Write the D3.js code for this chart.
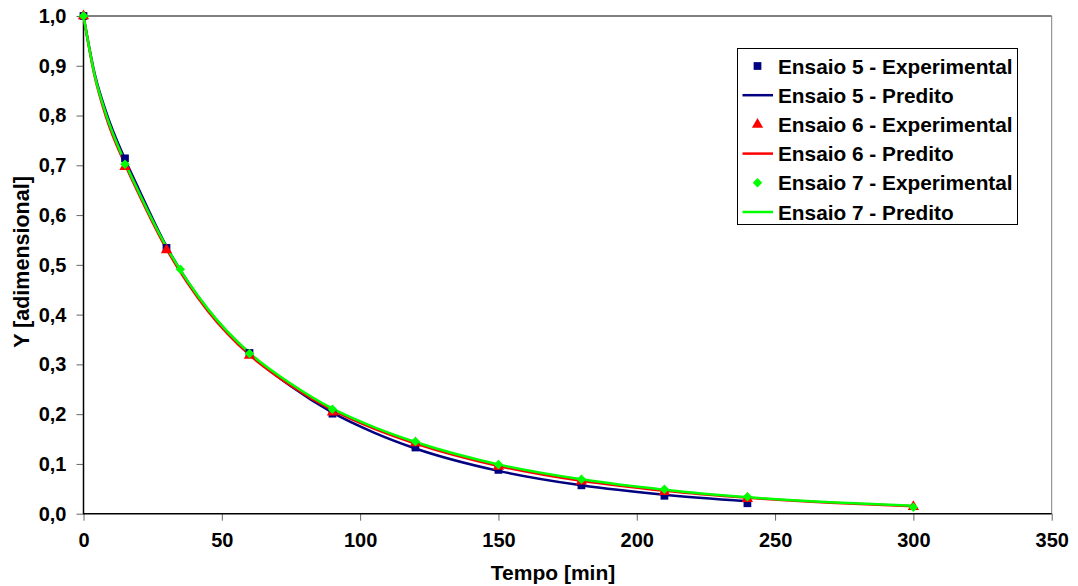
<!DOCTYPE html>
<html>
<head>
<meta charset="utf-8">
<script src="https://cdn.jsdelivr.net/npm/d3@7"></script>
<style>
  body { margin: 0; background: #fff; }
  svg text { font-family: Arial, "Liberation Sans", sans-serif; font-weight: bold; }
</style>
</head>
<body>
<svg width="1078" height="586"></svg>
<script>
var width = 1078, height = 586;

// tick labels
var xTicks = [0, 50, 100, 150, 200, 250, 300, 350];
var yTicks = [0, 0.1, 0.2, 0.3, 0.4, 0.5, 0.6, 0.7, 0.8, 0.9, 1.0];

// Ensaio 5
var t5 = [0, 15, 30, 60, 90, 120, 150, 180, 210, 240];
var exp5 = [1.0, 0.714, 0.534, 0.323, 0.201, 0.133, 0.088, 0.057, 0.036, 0.021];
var tp5 = [0, 4, 8, 15, 20, 30, 45, 60, 75, 90, 105, 120, 150, 180, 210, 240];
var pred5 = [1.0, 0.885, 0.81, 0.712, 0.652, 0.537, 0.41, 0.322, 0.256, 0.203, 0.163, 0.131, 0.086, 0.057, 0.038, 0.025];

// Ensaio 6
var t6 = [0, 15, 30, 60, 90, 120, 150, 180, 210, 240, 300];
var exp6 = [1.0, 0.697, 0.530, 0.318, 0.204, 0.142, 0.095, 0.065, 0.044, 0.030, 0.014];
var tp6 = [0, 4, 8, 15, 20, 30, 45, 60, 75, 90, 105, 120, 150, 180, 210, 240, 270, 300];
var pred6 = [1.0, 0.88, 0.8, 0.702, 0.642, 0.532, 0.407, 0.319, 0.257, 0.208, 0.171, 0.141, 0.096, 0.066, 0.046, 0.032, 0.022, 0.015];

// Ensaio 7
var t7 = [0, 15, 35, 60, 90, 120, 150, 180, 210, 240, 300];
var exp7 = [1.0, 0.702, 0.491, 0.322, 0.210, 0.145, 0.099, 0.069, 0.049, 0.034, 0.013];
var tp7 = [0, 4, 8, 15, 20, 30, 45, 60, 75, 90, 105, 120, 150, 180, 210, 240, 270, 300];
var pred7 = [1.0, 0.882, 0.805, 0.706, 0.646, 0.536, 0.411, 0.323, 0.261, 0.211, 0.174, 0.144, 0.099, 0.069, 0.048, 0.033, 0.023, 0.016];

// diamond = square turned 45 degrees
var series = [
  { name: "Ensaio 5", color: "#000080", shape: d3.symbolSquare, size: 60, rot: 0, t: t5, v: exp5, tp: tp5, vp: pred5 },
  { name: "Ensaio 6", color: "#ff0000", shape: d3.symbolTriangle, size: 55, rot: 0, t: t6, v: exp6, tp: tp6, vp: pred6 },
  { name: "Ensaio 7", color: "#00ff00", shape: d3.symbolSquare, size: 45, rot: 45, t: t7, v: exp7, tp: tp7, vp: pred7 }
];

var plotL = 83.5, plotT = 16, plotR = 1051.7, plotB = 513.7;

var x = d3.scaleLinear().domain([0, 350]).range([plotL, plotR]);
var y = d3.scaleLinear().domain([0, 1]).range([plotB, plotT]);

var svg = d3.select("svg");
var fmt = function(d) { return d3.format(".1f")(d).replace(".", ","); };

// frame: top black, right gray
svg.append("line").attr("x1", plotL).attr("x2", plotR).attr("y1", plotT).attr("y2", plotT)
  .attr("stroke", "#000").attr("stroke-width", 1);
svg.append("line").attr("x1", plotR).attr("x2", plotR).attr("y1", plotT).attr("y2", plotB)
  .attr("stroke", "#808080").attr("stroke-width", 1);

// axes
var xAxis = svg.append("g")
  .attr("transform", "translate(0," + plotB + ")")
  .call(d3.axisBottom(x).tickValues(xTicks).tickSize(7).tickPadding(12));
var yAxis = svg.append("g")
  .attr("transform", "translate(" + plotL + ",0)")
  .call(d3.axisLeft(y).tickValues(yTicks).tickSize(7).tickPadding(10).tickFormat(fmt));

[xAxis, yAxis].forEach(function(g) {
  g.select(".domain").remove();
  g.selectAll(".tick line").attr("stroke", "#666");
  g.selectAll(".tick text").attr("fill", "#000").style("font-size", "20px");
});

svg.append("line").attr("x1", plotL).attr("x2", plotL).attr("y1", plotT).attr("y2", plotB + 0.5)
  .attr("stroke", "#000").attr("stroke-width", 1.5);
svg.append("line").attr("x1", plotL).attr("x2", plotR).attr("y1", plotB).attr("y2", plotB)
  .attr("stroke", "#000").attr("stroke-width", 1.5);

// axis titles
svg.append("text")
  .attr("x", 553).attr("y", 580)
  .attr("text-anchor", "middle")
  .style("font-size", "21px")
  .text("Tempo [min]");
svg.append("text")
  .attr("transform", "translate(29,262) rotate(-90)")
  .attr("text-anchor", "middle")
  .style("font-size", "21.5px")
  .text("Y [adimensional]");

// predicted lines
var line = d3.line()
  .x(function(d) { return x(d[0]); })
  .y(function(d) { return y(d[1]); })
  .curve(d3.curveMonotoneX);

series.forEach(function(s) {
  svg.append("path")
    .datum(d3.zip(s.tp, s.vp))
    .attr("fill", "none")
    .attr("stroke", s.color)
    .attr("stroke-width", 2.5)
    .attr("d", line);
});

// experimental markers
series.forEach(function(s) {
  svg.append("g").selectAll("path")
    .data(d3.zip(s.t, s.v))
    .enter()
    .append("path")
    .attr("transform", function(d) {
      return "translate(" + x(d[0]) + "," + y(d[1]) + ") rotate(" + s.rot + ")";
    })
    .attr("d", d3.symbol().type(s.shape).size(s.size))
    .attr("fill", s.color);
});

// legend
var lg = svg.append("g");
lg.append("rect")
  .attr("x", 737.5).attr("y", 48.5).attr("width", 280).attr("height", 176)
  .attr("fill", "#fff").attr("stroke", "#000").attr("stroke-width", 1);

var rowY = d3.scaleLinear().domain([0, 5]).range([66, 212]);
series.forEach(function(s, i) {
  var y1 = rowY(i * 2), y2 = rowY(i * 2 + 1);
  lg.append("path")
    .attr("transform", "translate(757.5," + y1 + ") rotate(" + s.rot + ")")
    .attr("d", d3.symbol().type(s.shape).size(s.size))
    .attr("fill", s.color);
  lg.append("text").attr("x", 778).attr("y", y1 + 7.5).style("font-size", "20.8px")
    .text(s.name + " - Experimental");
  lg.append("line").attr("x1", 742.5).attr("x2", 773).attr("y1", y2).attr("y2", y2)
    .attr("stroke", s.color).attr("stroke-width", 2.5);
  lg.append("text").attr("x", 778).attr("y", y2 + 7.5).style("font-size", "20.8px")
    .text(s.name + " - Predito");
});
</script>
</body>
</html>
